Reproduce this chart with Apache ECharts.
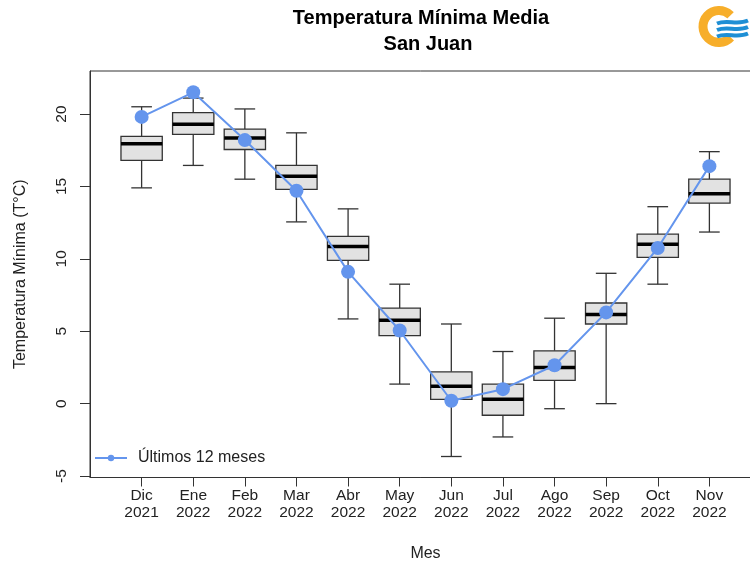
<!DOCTYPE html>
<html>
<head>
<meta charset="utf-8">
<script src="https://cdn.jsdelivr.net/npm/echarts@6/dist/echarts.min.js"></script>
<style>
  html, body { margin: 0; padding: 0; background: #fff; }
  #chart { width: 750px; height: 565px; }
</style>
</head>
<body>
<div id="chart"></div>
<script>
// months shown on the x axis
const categories = [
  "Dic\n2021", "Ene\n2022", "Feb\n2022", "Mar\n2022", "Abr\n2022", "May\n2022",
  "Jun\n2022", "Jul\n2022", "Ago\n2022", "Sep\n2022", "Oct\n2022", "Nov\n2022",
];

// historical boxplot stats per month
const whiskerLow  = [14.9, 16.45, 15.5, 12.55, 5.85, 1.35, -3.65, -2.3, -0.35, 0.0, 8.25, 11.85];
const q1          = [16.8, 18.6, 17.55, 14.8, 9.9, 4.7, 0.3, -0.8, 1.6, 5.5, 10.1, 13.85];
const median      = [17.95, 19.3, 18.35, 15.7, 10.85, 5.75, 1.2, 0.3, 2.5, 6.15, 11.0, 14.5];
const q3          = [18.45, 20.1, 18.95, 16.45, 11.55, 6.6, 2.2, 1.35, 3.65, 6.95, 11.7, 15.5];
const whiskerHigh = [20.5, 21.1, 20.35, 18.7, 13.45, 8.25, 5.5, 3.6, 5.9, 9.0, 13.6, 17.4];

// last 12 months
const ultimos12 = [19.8, 21.5, 18.2, 14.7, 9.1, 5.05, 0.2, 1.0, 2.65, 6.3, 10.75, 16.4];

const yTicks = [-5, 0, 5, 10, 15, 20];

const FONT = "Liberation Sans, Arial, sans-serif";
const positions = categories.map((_, i) => i + 1);

const chart = echarts.init(document.getElementById("chart"), null, { renderer: "canvas" });

const boxData = positions.map((x, i) => [x, whiskerLow[i], q1[i], median[i], q3[i], whiskerHigh[i]]);

const renderBox = (params, api) => {
  const x = api.value(0);
  const pLow = api.coord([x, api.value(1)]);
  const pQ1 = api.coord([x, api.value(2)]);
  const pMed = api.coord([x, api.value(3)]);
  const pQ3 = api.coord([x, api.value(4)]);
  const pHigh = api.coord([x, api.value(5)]);
  const half = api.size([0.8, 0])[0] / 2;
  const cap = half / 2;
  const cx = pMed[0];
  const lineStyle = { stroke: "#333", lineWidth: 1.3 };

  return {
    type: "group",
    children: [
      { type: "line", shape: { x1: cx, y1: pLow[1], x2: cx, y2: pQ1[1] }, style: lineStyle },
      { type: "line", shape: { x1: cx, y1: pQ3[1], x2: cx, y2: pHigh[1] }, style: lineStyle },
      { type: "line", shape: { x1: cx - cap, y1: pLow[1], x2: cx + cap, y2: pLow[1] }, style: lineStyle },
      { type: "line", shape: { x1: cx - cap, y1: pHigh[1], x2: cx + cap, y2: pHigh[1] }, style: lineStyle },
      {
        type: "rect",
        shape: { x: cx - half, y: pQ3[1], width: half * 2, height: pQ1[1] - pQ3[1] },
        style: { fill: "#e2e2e2", stroke: "#333", lineWidth: 1.3 },
      },
      {
        type: "line",
        shape: { x1: cx - half, y1: pMed[1], x2: cx + half, y2: pMed[1] },
        style: { stroke: "#000", lineWidth: 3.5 },
      },
    ],
  };
};

// small wave for the logo
const wave = (y) => ({
  type: "bezierCurve",
  shape: { x1: 717, y1: y + 1.5, cpx1: 727, cpy1: y - 3, cpx2: 737, cpy2: y + 3.5, x2: 748, y2: y - 1.5 },
  style: { stroke: "#1E8FD5", lineWidth: 4, fill: null },
});

const option = {
  animation: false,
  backgroundColor: "#fff",
  textStyle: { fontFamily: FONT },
  title: [
    {
      text: "Temperatura Mínima Media",
      left: 416,
      top: 3,
      textAlign: "center",
      textStyle: { fontSize: 20, fontWeight: "bold", color: "#000", fontFamily: FONT },
    },
    {
      text: "San Juan",
      left: 423,
      top: 29,
      textAlign: "center",
      textStyle: { fontSize: 20, fontWeight: "bold", color: "#000", fontFamily: FONT },
    },
  ],
  grid: {
    left: 90,
    top: 71,
    width: 671,
    height: 406.5,
    outerBoundsMode: "none",
    containLabel: false,
    show: true,
    borderColor: "#333",
    borderWidth: 1,
    backgroundColor: "transparent",
  },
  legend: {
    data: ["Últimos 12 meses"],
    left: 89,
    top: 445,
    itemWidth: 32,
    itemHeight: 8,
    textStyle: { fontSize: 16, color: "#222", fontFamily: FONT, padding: [0, 0, 0, 6] },
  },
  xAxis: {
    type: "value",
    min: 0,
    max: 13,
    axisLine: { show: true, onZero: false, lineStyle: { color: "#333" } },
    axisTick: { show: true, length: 9, customValues: positions, lineStyle: { color: "#333" } },
    axisLabel: {
      customValues: positions,
      formatter: (v) => categories[v - 1] || "",
      fontSize: 15.5,
      lineHeight: 17,
      margin: 10,
      color: "#222",
      fontFamily: FONT,
    },
    splitLine: { show: false },
    name: "Mes",
    nameLocation: "middle",
    nameGap: 68,
    nameTextStyle: { fontSize: 16, color: "#222", fontFamily: FONT },
  },
  yAxis: {
    type: "value",
    min: -5.1,
    max: 22.97,
    axisLine: { show: true, lineStyle: { color: "#333" } },
    axisTick: { show: true, length: 10, customValues: yTicks, lineStyle: { color: "#333" } },
    axisLabel: {
      customValues: yTicks,
      rotate: 90,
      fontSize: 15.5,
      margin: 20,
      color: "#222",
      fontFamily: FONT,
    },
    splitLine: { show: false },
    name: "Temperatura Mínima (T°C)",
    nameLocation: "middle",
    nameRotate: 90,
    nameGap: 61,
    nameTextStyle: { fontSize: 16, color: "#222", fontFamily: FONT },
  },
  series: [
    {
      name: "historico",
      type: "custom",
      renderItem: renderBox,
      data: boxData,
      encode: { x: 0, y: [1, 2, 3, 4, 5] },
      z: 2,
    },
    {
      name: "Últimos 12 meses",
      type: "line",
      data: positions.map((x, i) => [x, ultimos12[i]]),
      symbol: "circle",
      symbolSize: 14,
      lineStyle: { width: 2, color: "#6495ED" },
      itemStyle: { color: "#6495ED" },
      z: 5,
    },
  ],
  graphic: [
    {
      type: "arc",
      shape: { cx: 719, cy: 26.5, r: 16, startAngle: 0.75, endAngle: 2 * Math.PI - 0.77 },
      style: { stroke: "#F7AE2A", lineWidth: 9, fill: null },
    },
    wave(22),
    wave(28.5),
    wave(35),
  ],
};

chart.setOption(option);
</script>
</body>
</html>
